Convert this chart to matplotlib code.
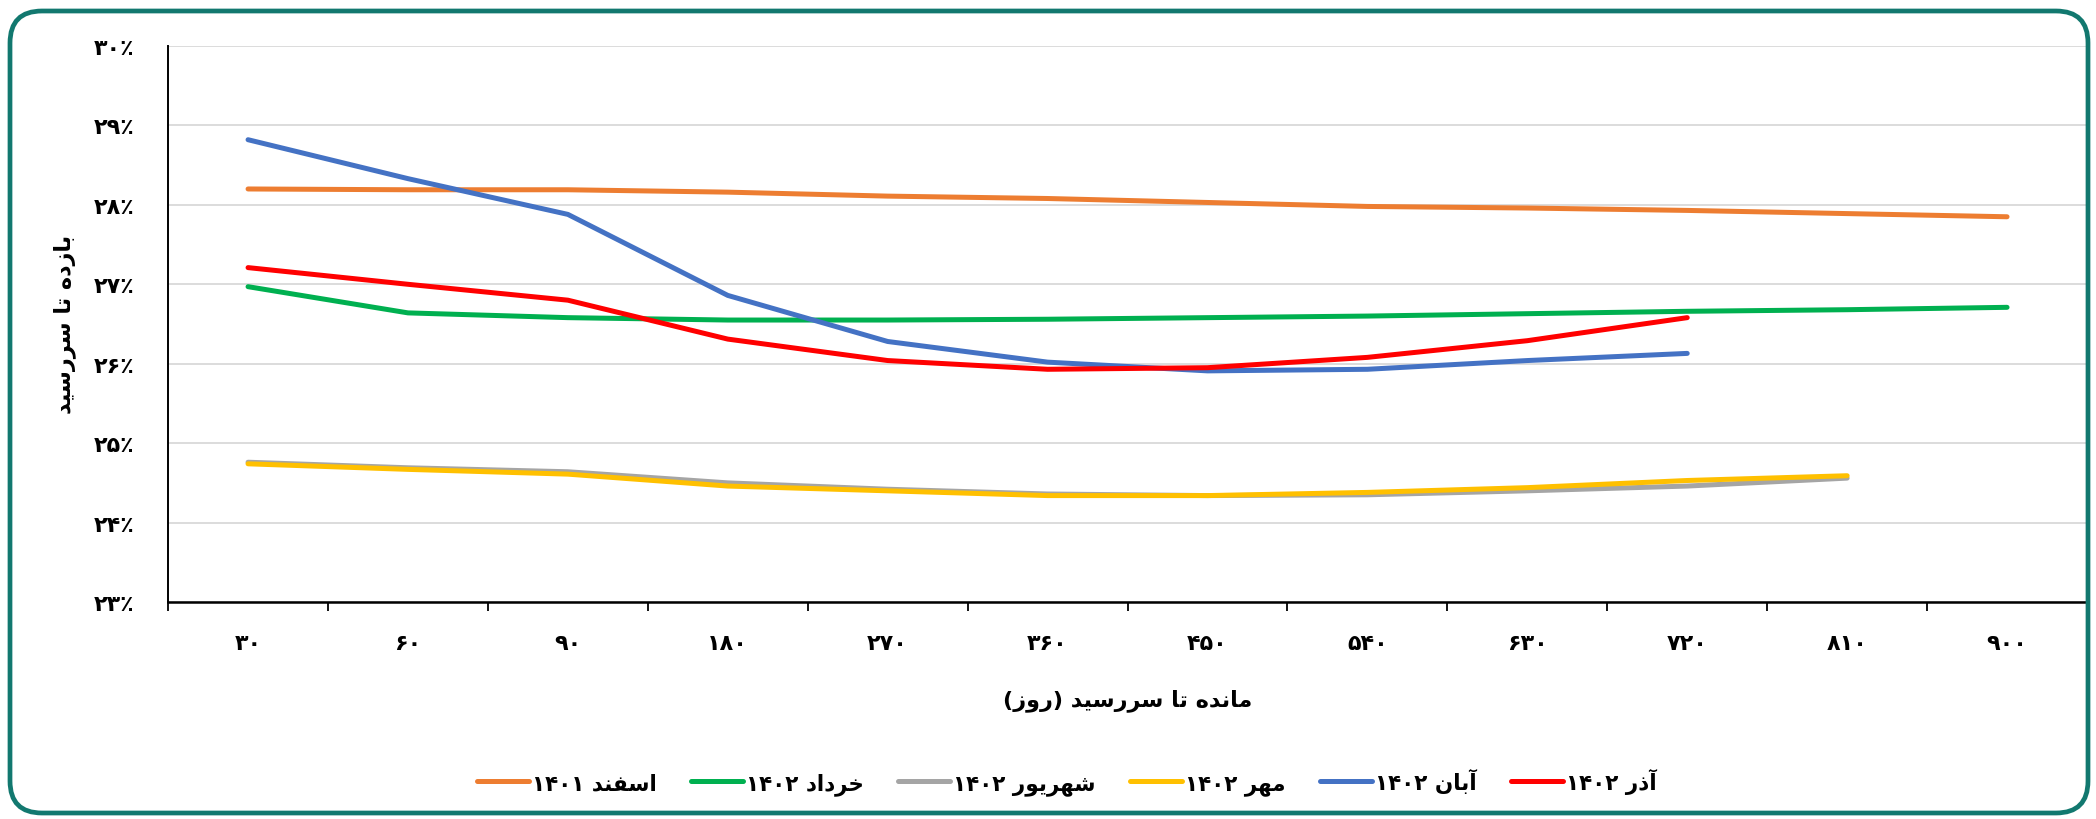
import re
import numpy as np
import matplotlib
matplotlib.use('Agg')
import matplotlib.pyplot as plt
from matplotlib.patches import FancyBboxPatch

nan = np.nan

# روزهای مانده تا سررسید
days = [30, 60, 90, 180, 270, 360, 450, 540, 630, 720, 810, 900]

# بازده تا سررسید (درصد)
esfand_1401 = [28.20, 28.19, 28.19, 28.16, 28.11, 28.08, 28.03, 27.98, 27.96, 27.93, 27.89, 27.85]
khordad_1402 = [26.97, 26.64, 26.58, 26.55, 26.55, 26.56, 26.58, 26.60, 26.63, 26.66, 26.68, 26.71]
shahrivar_1402 = [24.76, 24.69, 24.64, 24.50, 24.42, 24.36, 24.34, 24.35, 24.40, 24.46, 24.56, nan]
mehr_1402 = [24.74, 24.67, 24.61, 24.46, 24.40, 24.34, 24.34, 24.38, 24.44, 24.53, 24.59, nan]
aban_1402 = [28.82, 28.33, 27.88, 26.86, 26.28, 26.02, 25.91, 25.93, 26.04, 26.13, nan, nan]
azar_1402 = [27.21, 27.00, 26.80, 26.31, 26.04, 25.93, 25.95, 26.08, 26.29, 26.58, nan, nan]

series_names = ['اسفند ۱۴۰۱', 'خرداد ۱۴۰۲', 'شهریور ۱۴۰۲', 'مهر ۱۴۰۲', 'آبان ۱۴۰۲', 'آذر ۱۴۰۲']
series_values = [esfand_1401, khordad_1402, shahrivar_1402, mehr_1402, aban_1402, azar_1402]
colors = ['#ED7D31', '#00B050', '#A5A5A5', '#FFC000', '#4472C4', '#FF0000']

y_ticks = [23, 24, 25, 26, 27, 28, 29, 30]

# --- شکل‌دهی ساده حروف فارسی (matplotlib خودش این کار را نمی‌کند) ---
# isolated, final, initial, medial
FORMS = {
    '\u0627': ('\uFE8D', '\uFE8E', None, None),
    '\u0622': ('\uFE81', '\uFE82', None, None),
    '\u0628': ('\uFE8F', '\uFE90', '\uFE91', '\uFE92'),
    '\u062A': ('\uFE95', '\uFE96', '\uFE97', '\uFE98'),
    '\u062E': ('\uFEA5', '\uFEA6', '\uFEA7', '\uFEA8'),
    '\u062F': ('\uFEA9', '\uFEAA', None, None),
    '\u0630': ('\uFEAB', '\uFEAC', None, None),
    '\u0631': ('\uFEAD', '\uFEAE', None, None),
    '\u0632': ('\uFEAF', '\uFEB0', None, None),
    '\u0633': ('\uFEB1', '\uFEB2', '\uFEB3', '\uFEB4'),
    '\u0634': ('\uFEB5', '\uFEB6', '\uFEB7', '\uFEB8'),
    '\u0641': ('\uFED1', '\uFED2', '\uFED3', '\uFED4'),
    '\u0645': ('\uFEE1', '\uFEE2', '\uFEE3', '\uFEE4'),
    '\u0646': ('\uFEE5', '\uFEE6', '\uFEE7', '\uFEE8'),
    '\u0647': ('\uFEE9', '\uFEEA', '\uFEEB', '\uFEEC'),
    '\u0648': ('\uFEED', '\uFEEE', None, None),
    '\u06CC': ('\uFBFC', '\uFBFD', '\uFBFE', '\uFBFF'),
}


def shape(text):
    out = []
    for i, c in enumerate(text):
        if c not in FORMS:
            out.append(c)
            continue
        prev = text[i - 1] if i > 0 else None
        nxt = text[i + 1] if i + 1 < len(text) else None
        jp = prev in FORMS and FORMS[prev][2] is not None
        jn = FORMS[c][2] is not None and nxt in FORMS
        iso, fin, ini, med = FORMS[c]
        if jp and jn:
            out.append(med)
        elif jp:
            out.append(fin)
        elif jn:
            out.append(ini)
        else:
            out.append(iso)
    return ''.join(out)


def rtl(text):
    s = shape(text)[::-1]
    s = re.sub(r'[0-9\u06F0-\u06F9]+', lambda m: m.group(0)[::-1], s)
    return s.translate(str.maketrans('()', ')('))


def fa_num(n):
    return str(n).translate(str.maketrans('0123456789', '۰۱۲۳۴۵۶۷۸۹'))


plt.rcParams['font.family'] = ['DejaVu Sans']
plt.rcParams['font.weight'] = 'bold'

fig = plt.figure(figsize=(20.96, 8.2), dpi=100)
ax = fig.add_axes([0.0802, 0.2646, 0.9155, 0.6781])

x = np.arange(len(days))
for name, vals, c in zip(series_names, series_values, colors):
    ax.plot(x, vals, color=c, lw=3.6, solid_capstyle='round', label=rtl(name))

ax.set_xlim(-0.5, len(days) - 0.5)
ax.set_ylim(23, 30)
ax.set_yticks(y_ticks)
ax.set_yticklabels([fa_num(v) + '\u066A' for v in y_ticks], fontsize=16, fontweight='bold')
ax.set_xticks(x)
ax.set_xticklabels([fa_num(d) for d in days], fontsize=16, fontweight='bold')
ax.set_xticks(np.arange(-0.5, len(days)), minor=True)
ax.tick_params(axis='x', which='major', length=0, pad=22)
ax.tick_params(axis='x', which='minor', length=6.5, width=1.3, color='black')
ax.tick_params(axis='y', length=0, pad=24)

ax.grid(axis='y', color='#d9d9d9', lw=1.3)
ax.set_axisbelow(True)
for s in ['top', 'right']:
    ax.spines[s].set_visible(False)
ax.spines['left'].set_linewidth(1.4)
ax.spines['bottom'].set_linewidth(1.8)

fig.text(0.031, 0.604, rtl('بازده تا سررسید'), rotation=90, ha='center', va='center',
         fontsize=16, fontweight='bold')
fig.text(0.538, 0.146, rtl('مانده تا سررسید (روز)'), ha='center', va='center',
         fontsize=16, fontweight='bold')

ax.legend(loc='center', bbox_to_anchor=(0.509, 0.046), bbox_transform=fig.transFigure,
          ncol=6, frameon=False, fontsize=15.5, handlelength=2.4, handletextpad=0.15,
          columnspacing=1.6)

# قاب گرد سبزآبی دور نمودار
frame = FancyBboxPatch((0.10, 0.06), 20.78, 8.02, boxstyle='round,pad=0,rounding_size=0.32',
                       transform=fig.dpi_scale_trans, fill=False, edgecolor='#12786f', lw=3.4)
fig.patches.append(frame)

fig.savefig('out.png', dpi=100)
